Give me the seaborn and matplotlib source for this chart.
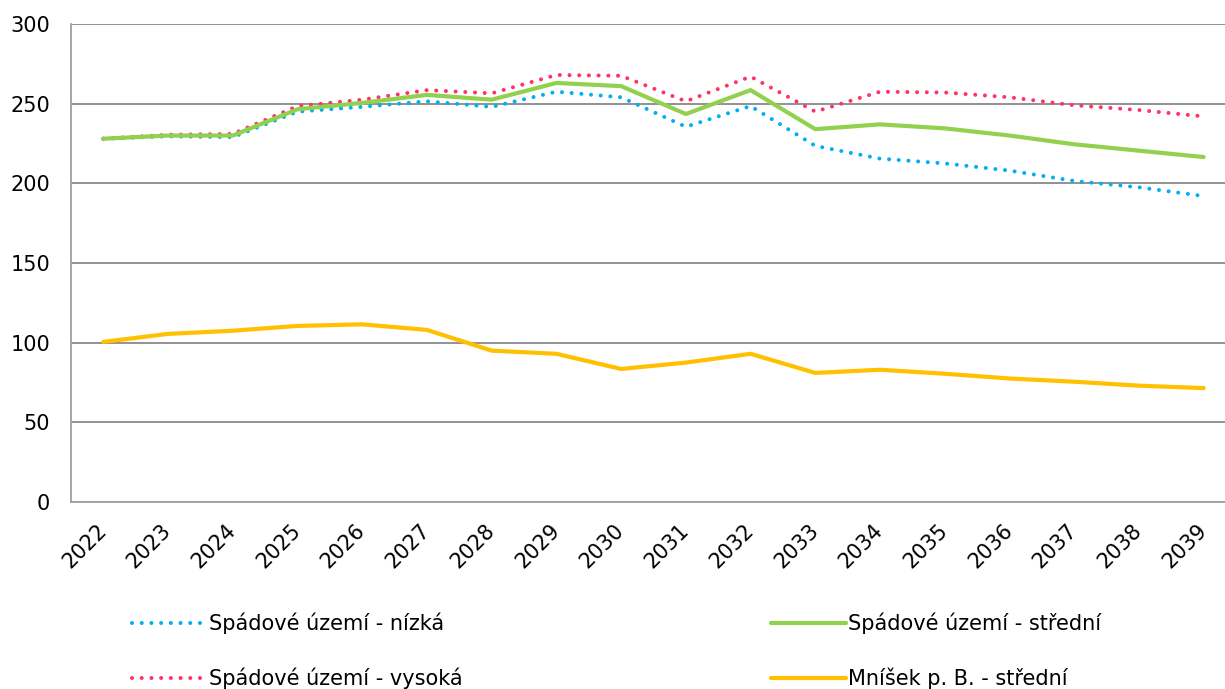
import matplotlib
matplotlib.use("Agg")
import matplotlib.pyplot as plt
import seaborn as sns
import numpy as np

# Data
years = [str(y) for y in range(2022, 2040)]
spadove_nizka = [228, 229.5, 229, 245, 248, 251.5, 248, 257.5, 254, 235.5, 248.5, 223.5,
                 215.5, 212.5, 208, 201.5, 197.5, 192]
spadove_stredni = [228, 230, 230, 246.5, 250.5, 255.5, 252.5, 263, 261, 243.5, 258.5, 234,
                   237, 234.5, 230, 224.5, 220.5, 216.5]
spadove_vysoka = [228, 230.5, 231, 248.5, 252.5, 258.5, 256.5, 268, 267.5, 251.5, 267, 245,
                  257.5, 257, 254, 249, 246, 242]
mnisek_stredni = [100.5, 105.5, 107.5, 110.5, 111.5, 108, 95, 93, 83.5, 87.5, 93, 81,
                  83, 80.5, 77.5, 75.5, 73, 71.5]
y_ticks = [0, 50, 100, 150, 200, 250, 300]

sns.set_style("white")
plt.rcParams["font.family"] = ["DejaVu Sans"]
plt.rcParams["text.color"] = "black"

fig = plt.figure(figsize=(12.25, 6.89), dpi=100)
# plot area runs a little past the right edge, as in the reference
ax = fig.add_axes([71 / 1225, 187 / 689, 1165 / 1225, 478 / 689])

x = np.arange(len(years))
dotted = (0, (0.01, 2.4))

sns.lineplot(x=x, y=spadove_nizka, ax=ax, color="#00B0F0", linewidth=2.9,
             linestyle=dotted, dash_capstyle="round", label="Spádové území - nízká")
sns.lineplot(x=x, y=spadove_vysoka, ax=ax, color="#FF3366", linewidth=2.9,
             linestyle=dotted, dash_capstyle="round", label="Spádové území - vysoká")
sns.lineplot(x=x, y=spadove_stredni, ax=ax, color="#92D050", linewidth=3.0,
             solid_capstyle="round", label="Spádové území - střední")
sns.lineplot(x=x, y=mnisek_stredni, ax=ax, color="#FFC000", linewidth=3.0,
             solid_capstyle="round", label="Mníšek p. B. - střední")

ax.set_xlim(-0.5, len(years) - 0.5)
ax.set_ylim(0, 300)
ax.set_yticks(y_ticks)
ax.set_yticklabels([str(v) for v in y_ticks], fontsize=15, color="black")
ax.yaxis.grid(True, color="#898989", linewidth=1.3)
ax.set_axisbelow(True)

ax.set_xticks(x)
ax.set_xticklabels(years, fontsize=15, rotation=45, ha="right", va="center",
                   rotation_mode="anchor", color="black")
ax.set_xticks(np.arange(-0.5, len(years)), minor=True)
ax.tick_params(axis="x", which="major", length=0, pad=18)
ax.tick_params(axis="x", which="minor", length=5, width=1.3, color="#A0A0A0", direction="out")
ax.tick_params(axis="y", length=5, width=1.3, color="#A0A0A0", direction="out", pad=10)

for side in ["top", "right"]:
    ax.spines[side].set_visible(False)
for side in ["left", "bottom"]:
    ax.spines[side].set_color("#A0A0A0")
    ax.spines[side].set_linewidth(1.3)

ax.set_xlabel("")
ax.set_ylabel("")
handles, labels = ax.get_legend_handles_labels()
ax.get_legend().remove()
fig.legend(handles, labels, ncol=2, loc="upper left", bbox_to_anchor=(113 / 1225, 1 - 594 / 689),
           frameon=False, fontsize=15, handlelength=3.6, handletextpad=0.1,
           columnspacing=14.8, labelspacing=1.6)

fig.savefig("out.png", dpi=100)
